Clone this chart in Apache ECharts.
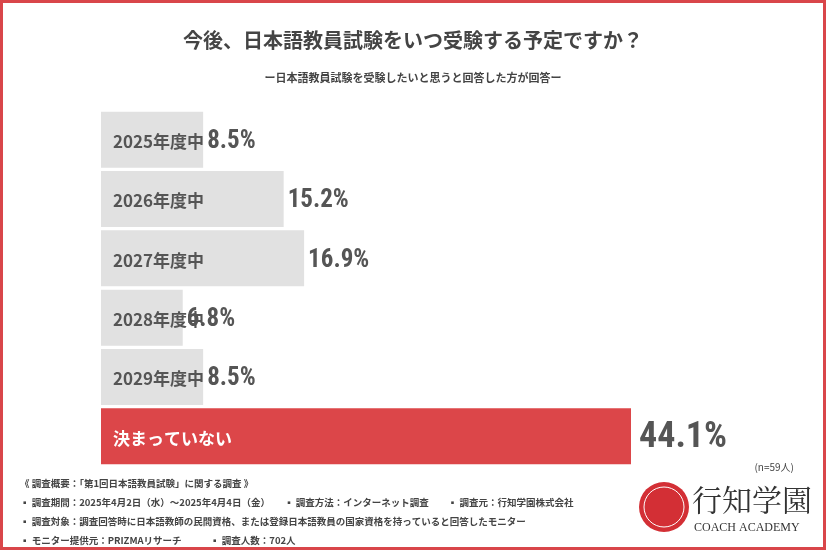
<!DOCTYPE html><html><head><meta charset="utf-8"><script src="https://cdn.jsdelivr.net/npm/echarts@6/dist/echarts.min.js"></script>
<style>html,body{margin:0;padding:0;background:#fff}#c{width:826px;height:550px}</style></head><body><div id="c"></div><script>
const categories=['2025年度中','2026年度中','2027年度中','2028年度中','2029年度中','決まっていない'];
const values=[8.5,15.2,16.9,6.8,8.5,44.1];
const F='"Noto Sans CJK JP","Noto Sans",sans-serif';
const NF='"Roboto Condensed","Liberation Sans Narrow",Roboto,sans-serif';
const chart=echarts.init(document.getElementById('c'));
const notes=['《 調査概要：「第1回日本語教員試験」に関する調査 》','▪ 調査期間：2025年4月2日（水）～2025年4月4日（金）　　▪ 調査方法：インターネット調査　　▪ 調査元：行知学園株式会社','▪ 調査対象：調査回答時に日本語教師の民間資格、または登録日本語教員の国家資格を持っていると回答したモニター','▪ モニター提供元：PRIZMAリサーチ　　　▪ 調査人数：702人'];
chart.setOption({
 animation:false,
 grid:{left:101,right:64,top:110,bottom:84},
 xAxis:{type:'value',min:0,max:55,show:false},
 yAxis:{type:'category',data:categories,inverse:true,show:false},
 series:[{type:'bar',barWidth:56,
  data:values.map((v,i)=>({value:v,itemStyle:{color:i===5?'#dc4649':'#e1e1e1'},
   label:{show:true,position:'insideLeft',distance:12,offset:[0,2],formatter:categories[i],color:i===5?'#fff':'#555',fontSize:17,fontWeight:'bold',fontFamily:F}})),
  },
  {type:'bar',barWidth:56,barGap:'-100%',itemStyle:{color:'transparent'},
   data:values.map((v,i)=>({value:v,label:{fontSize:i===5?36:25,distance:i===5?8:4}})),
   label:{show:true,position:'right',offset:[0,2],formatter:p=>p.value.toFixed(1)+'%',color:'#555',fontWeight:'bold',fontFamily:NF}}],
 graphic:[
  {type:'rect',shape:{x:1.5,y:1.5,width:823,height:547},style:{fill:'none',stroke:'#d9464a',lineWidth:3}},
  {type:'text',left:'center',top:30,style:{text:'今後、日本語教員試験をいつ受験する予定ですか？',font:'bold 20px '+F,fill:'#444'}},
  {type:'text',left:'center',top:72,style:{text:'ー日本語教員試験を受験したいと思うと回答した方が回答ー',font:'bold 11px '+F,fill:'#444'}},
  {type:'text',right:32,top:462,style:{text:'(n=59人)',font:'10px '+F,fill:'#444'}},
  ...notes.map((t,i)=>({type:'text',left:20,top:479+i*19,style:{text:t,font:'bold 9.5px '+F,fill:'#444'}})),
  {type:'circle',shape:{cx:664,cy:507,r:25},style:{fill:'#d32f35'}},
  {type:'circle',shape:{cx:664,cy:507,r:20},style:{fill:'none',stroke:'#fff',lineWidth:1}},
  {type:'text',left:692,top:485,style:{text:'行知学園',font:'30px "Noto Serif CJK JP","Noto Sans CJK JP",serif',fill:'#333'}},
  {type:'text',left:694,top:522,style:{text:'COACH ACADEMY',font:'12px "Liberation Serif",serif',fill:'#333'}}
 ]
});
</script></body></html>
